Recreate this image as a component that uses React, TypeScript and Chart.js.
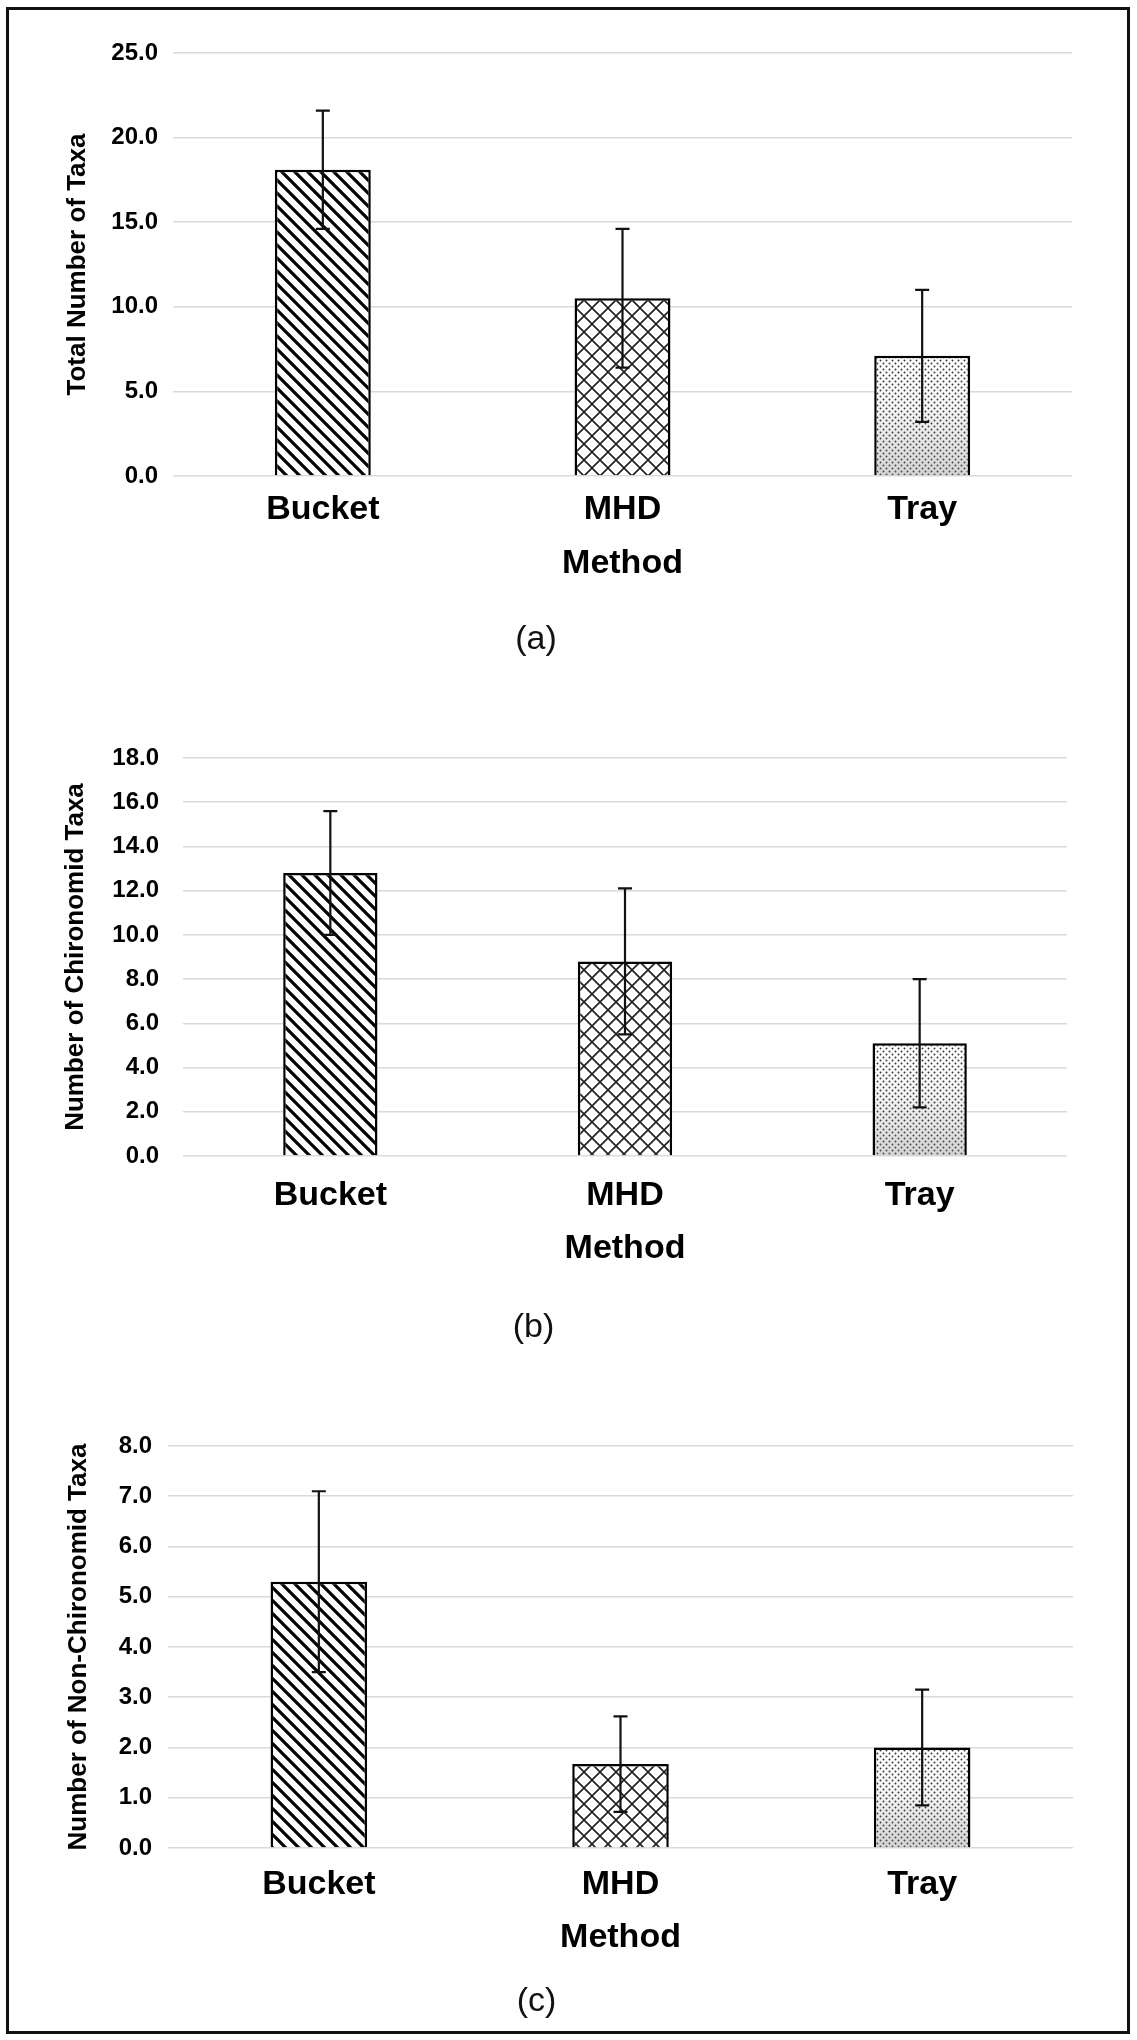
import React, { useEffect, useRef } from 'react';
import { Chart, registerables } from 'chart.js';

Chart.register(...registerables);

// ---- data ----
const categories = ['Bucket', 'MHD', 'Tray'];
const xAxisTitle = 'Method';

const totalMeans = [18.1, 10.5, 7.1];
const totalErrors = [3.5, 4.1, 3.9];
const totalMax = 25;
const totalStep = 5;

const chiroMeans = [12.8, 8.8, 5.1];
const chiroErrors = [2.8, 3.3, 2.9];
const chiroMax = 18;
const chiroStep = 2;

const nonChiroMeans = [5.3, 1.67, 2.0];
const nonChiroErrors = [1.8, 0.95, 1.15];
const nonChiroMax = 8;
const nonChiroStep = 1;

const FONT = '"Liberation Sans", Arial, Helvetica, sans-serif';
Chart.defaults.font.family = FONT;

function makePattern(kind: string): CanvasPattern | string {
  const c = document.createElement('canvas');
  const ctx = c.getContext('2d');
  if (!ctx) return '#fff';
  if (kind === 'diag') {
    const s = 13;
    c.width = s; c.height = s;
    ctx.fillStyle = '#fff';
    ctx.fillRect(0, 0, s, s);
    ctx.strokeStyle = '#000';
    ctx.lineWidth = 3.2;
    ctx.beginPath();
    for (const k of [-s, 0, s]) {
      ctx.moveTo(-s, -s + k);
      ctx.lineTo(2 * s, 2 * s + k);
    }
    ctx.stroke();
  } else if (kind === 'cross') {
    const s = 16;
    c.width = s; c.height = s;
    ctx.fillStyle = '#fff';
    ctx.fillRect(0, 0, s, s);
    ctx.strokeStyle = '#222';
    ctx.lineWidth = 1.7;
    ctx.beginPath();
    for (const k of [-s, 0, s]) {
      ctx.moveTo(-s, -s + k);
      ctx.lineTo(2 * s, 2 * s + k);
    }
    for (const k of [0, s, 2 * s]) {
      ctx.moveTo(-s, k + s);
      ctx.lineTo(2 * s, k - 2 * s);
    }
    ctx.stroke();
  } else {
    const s = 6;
    c.width = s; c.height = s;
    ctx.fillStyle = '#fff';
    ctx.fillRect(0, 0, s, s);
    ctx.fillStyle = '#333';
    ctx.beginPath();
    ctx.arc(1.5, 1.5, 0.95, 0, Math.PI * 2);
    ctx.arc(4.5, 4.5, 0.95, 0, Math.PI * 2);
    ctx.fill();
  }
  return ctx.createPattern(c, 'repeat') || '#fff';
}

// Soft grey shading that deepens toward the base of the dotted (Tray) bar
const shadePlugin = {
  id: 'trayShade',
  afterDatasetDraw(chart: any) {
    const meta = chart.getDatasetMeta(0);
    const bar = meta.data[2];
    if (!bar) return;
    const props = bar.getProps(['x', 'y', 'base', 'width'], true);
    const inset = 2.5;
    const left = props.x - props.width / 2 + inset;
    const right = props.x + props.width / 2 - inset;
    const top = props.y + inset;
    const bottom = props.base;
    if (bottom <= top) return;
    const ctx = chart.ctx;
    const g = ctx.createLinearGradient(0, top, 0, bottom);
    g.addColorStop(0, 'rgba(120,120,120,0)');
    g.addColorStop(0.45, 'rgba(120,120,120,0.08)');
    g.addColorStop(1, 'rgba(120,120,120,0.32)');
    ctx.save();
    ctx.fillStyle = g;
    ctx.fillRect(left, top, right - left, bottom - top);
    ctx.restore();
  },
};

const errorBarPlugin = {
  id: 'errorBars',
  afterDatasetsDraw(chart: any, _args: any, opts: any) {
    const errs: number[] = opts.errors || [];
    const meta = chart.getDatasetMeta(0);
    const yScale = chart.scales.y;
    const values: number[] = chart.data.datasets[0].data;
    const ctx = chart.ctx;
    ctx.save();
    ctx.strokeStyle = '#111';
    ctx.lineWidth = 2.2;
    meta.data.forEach((bar: any, i: number) => {
      const v = values[i];
      const e = errs[i];
      if (e == null) return;
      const x = bar.x;
      const yTop = yScale.getPixelForValue(v + e);
      const yBot = yScale.getPixelForValue(v - e);
      ctx.beginPath();
      ctx.moveTo(x, yTop);
      ctx.lineTo(x, yBot);
      ctx.moveTo(x - 7, yTop);
      ctx.lineTo(x + 7, yTop);
      ctx.moveTo(x - 7, yBot);
      ctx.lineTo(x + 7, yBot);
      ctx.stroke();
    });
    ctx.restore();
  },
};

type PanelProps = {
  top: number;
  height: number;
  means: number[];
  errors: number[];
  yMax: number;
  yStep: number;
  yTitle: string;
  caption: string;
  lay: {
    padTop: number; padRight: number; padBottom: number;
    yW: number; yTitlePad: number; yTickPad: number;
    xH: number; xTickPad: number; xTitlePad: number;
  };
};

function Panel(props: PanelProps) {
  const ref = useRef<HTMLCanvasElement | null>(null);
  useEffect(() => {
    if (!ref.current) return;
    const { lay } = props;
    const patterns = [makePattern('diag'), makePattern('cross'), makePattern('dots')];
    const chart = new Chart(ref.current, {
      type: 'bar',
      data: {
        labels: categories,
        datasets: [
          {
            data: props.means,
            backgroundColor: patterns as any,
            borderColor: '#000',
            borderWidth: 2.5,
            barPercentage: 0.32,
            categoryPercentage: 1,
          },
        ],
      },
      options: {
        responsive: false,
        animation: false,
        devicePixelRatio: 1,
        layout: { padding: { left: 0, top: lay.padTop, right: lay.padRight, bottom: lay.padBottom } },
        plugins: {
          legend: { display: false },
          tooltip: { enabled: false },
          title: {
            display: true,
            text: props.caption,
            position: 'bottom',
            color: '#111',
            font: { size: 34, weight: 'normal' },
            padding: 0,
          },
          errorBars: { errors: props.errors },
        } as any,
        scales: {
          x: {
            grid: { display: false, drawTicks: false },
            border: { display: false },
            ticks: { color: '#000', font: { size: 34, weight: 'bold' }, padding: lay.xTickPad },
            title: {
              display: true,
              text: xAxisTitle,
              color: '#000',
              font: { size: 34, weight: 'bold' },
              padding: { top: 0, bottom: lay.xTitlePad },
            },
            afterFit: (s: any) => { s.height = lay.xH; },
          },
          y: {
            min: 0,
            max: props.yMax,
            ticks: {
              stepSize: props.yStep,
              color: '#000',
              font: { size: 24, weight: 'bold' },
              padding: lay.yTickPad,
              callback: (v: any) => Number(v).toFixed(1),
            },
            grid: { color: '#d9d9d9', lineWidth: 1.6, drawTicks: false },
            border: { display: false },
            title: {
              display: true,
              text: props.yTitle,
              color: '#000',
              font: { size: 26, weight: 'bold' },
              padding: { top: lay.yTitlePad, bottom: 0 },
            },
            afterFit: (s: any) => { s.width = lay.yW; },
          },
        },
      },
      plugins: [shadePlugin, errorBarPlugin],
    });
    return () => chart.destroy();
  }, []);
  return (
    <canvas
      ref={ref}
      width={1137}
      height={props.height}
      style={{ position: 'absolute', left: 0, top: props.top, width: 1137, height: props.height }}
    />
  );
}

export default function App() {
  return (
    <div style={{ position: 'absolute', left: 0, top: 0, width: 1137, height: 2040, background: '#fff', overflow: 'hidden' }}>
      <div
        style={{
          position: 'absolute', left: 6, top: 7, width: 1124, height: 2027,
          border: '3px solid #111', boxSizing: 'border-box',
        }}
      />
      <Panel
        top={20}
        height={660}
        means={totalMeans}
        errors={totalErrors}
        yMax={totalMax}
        yStep={totalStep}
        yTitle="Total Number of Taxa"
        caption="(a)"
        lay={{ padTop: 33, padRight: 65, padBottom: 19.6, yW: 173, yTitlePad: 62.4, yTickPad: 15, xH: 143.6, xTickPad: 13.6, xTitlePad: 35.2 }}
      />
      <Panel
        top={690}
        height={680}
        means={chiroMeans}
        errors={chiroErrors}
        yMax={chiroMax}
        yStep={chiroStep}
        yTitle="Number of Chironomid Taxa"
        caption="(b)"
        lay={{ padTop: 68, padRight: 70, padBottom: 21.6, yW: 183, yTitlePad: 60.4, yTickPad: 24, xH: 151.6, xTickPad: 19.6, xTitlePad: 38.2 }}
      />
      <Panel
        top={1380}
        height={660}
        means={nonChiroMeans}
        errors={nonChiroErrors}
        yMax={nonChiroMax}
        yStep={nonChiroStep}
        yTitle="Number of Non-Chironomid Taxa"
        caption="(c)"
        lay={{ padTop: 66, padRight: 64, padBottom: 17.6, yW: 168, yTitlePad: 63.4, yTickPad: 16, xH: 133.6, xTickPad: 16.6, xTitlePad: 23.2 }}
      />
    </div>
  );
}
